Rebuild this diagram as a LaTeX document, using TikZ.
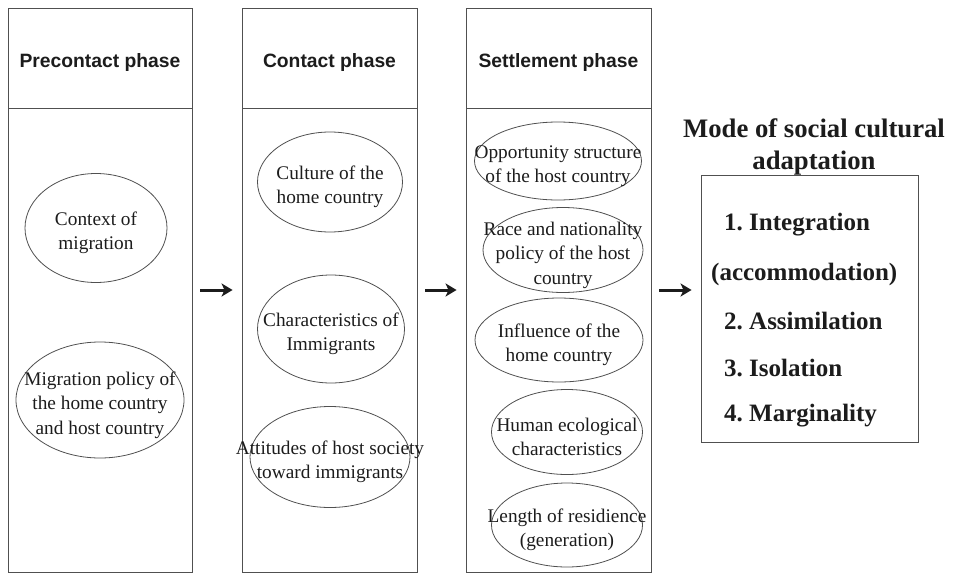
\documentclass[tikz,border=0pt]{standalone}
\usepackage{fontspec}
\setmainfont{Liberation Serif}
\setsansfont{Liberation Sans}
\usetikzlibrary{shapes.geometric,arrows.meta}
\frenchspacing
\definecolor{linegray}{HTML}{505050}
\definecolor{inkgray}{HTML}{1C1C1C}
\tikzset{
    phase/.style 2 args={draw=linegray, line width=0.9pt, minimum width=#1, minimum height=#2, inner sep=0pt},
    head/.style={yshift=-5pt, font=\sffamily\bfseries\fontsize{19.3}{23}\selectfont, text=inkgray},
    oval/.style 2 args={draw=linegray, line width=0.8pt, ellipse, minimum width=#1, minimum height=#2, inner sep=0pt},
    txt/.style={yshift=-5pt, align=center, inner sep=0pt, font=\fontsize{19.3}{24.5}\selectfont, text=inkgray},
    item/.style={anchor=west, inner sep=0pt, font=\bfseries\fontsize{25}{30}\selectfont, text=inkgray},
    flow/.style={-{Stealth[length=11pt,width=13pt,inset=3pt]}, line width=3pt, draw=inkgray, shorten <=8pt, shorten >=9pt}
}
\begin{document}
\begin{tikzpicture}[x=1pt,y=-1pt]
    \fill[white] (0,0) rectangle (953,573);
    \useasboundingbox (0,0) rectangle (953,573);

    \node[phase={184pt}{564pt}] (pre) at (100,290) {};
    \node[phase={175pt}{564pt}] (con) at (329.5,290) {};
    \node[phase={185pt}{564pt}] (set) at (558.5,290) {};
    \node[phase={184pt}{100pt}, anchor=north] (preh) at (pre.north) {};
    \node[phase={175pt}{100pt}, anchor=north] (conh) at (con.north) {};
    \node[phase={185pt}{100pt}, anchor=north] (seth) at (set.north) {};
    \node[head] at (preh) {Precontact phase};
    \node[head] at (conh) {Contact phase};
    \node[head] at (seth) {Settlement phase};

    \node[oval={142pt}{109pt}] (ctx) at (96,228) {};
    \node[txt] at (ctx) {Context of\\migration};
    \node[oval={168pt}{116pt}] (pol) at (100,400) {};
    \node[txt] at (pol) {Migration policy of\\the home country\\and host country};

    \node[oval={145pt}{100pt}] (cul) at (330,182) {};
    \node[txt] at (cul) {Culture of the\\home country};
    \node[oval={147pt}{108pt}] (cha) at (331,329) {};
    \node[txt] at (cha) {Characteristics of\\Immigrants};
    \node[oval={160pt}{101pt}] (att) at (330,457) {};
    \node[txt] at (att) {Attitudes of host society\\toward immigrants};

    \node[oval={167pt}{78pt}] (opp) at (558,161) {};
    \node[txt] at (opp) {Opportunity structure\\of the host country};
    \node[oval={160pt}{85pt}] (race) at (563,250) {};
    \node[txt] at (race) {Race and nationality\\policy of the host\\country};
    \node[oval={168pt}{84pt}] (inf) at (559,340) {};
    \node[txt] at (inf) {Influence of the\\home country};
    \node[oval={151pt}{85pt}] (hum) at (567,432) {};
    \node[txt] at (hum) {Human ecological\\characteristics};
    \node[oval={151pt}{84pt}] (len) at (567,525) {};
    \node[txt] at (len) {Length of residience\\(generation)};

    \node[align=center, font=\bfseries\fontsize{26.7}{32}\selectfont, text=inkgray] (title) at (814,147) {Mode of social cultural\\adaptation};
    \node[phase={217pt}{267pt}] (mode) at (809.5,308.5) {};
    \node[item] (i1) at (724,225) {1. Integration};
    \node[item] (i1b) at (711,274) {(accommodation)};
    \node[item] (i2) at (724,321) {2. Assimilation};
    \node[item] (i3) at (724,368) {3. Isolation};
    \node[item] (i4) at (724,416) {4. Marginality};

    \draw[flow] (pre.east) -- (con.west);
    \draw[flow] (con.east) -- (set.west);
    \draw[flow] (set.east) -- (set.east -| mode.west);
\end{tikzpicture}
\end{document}
